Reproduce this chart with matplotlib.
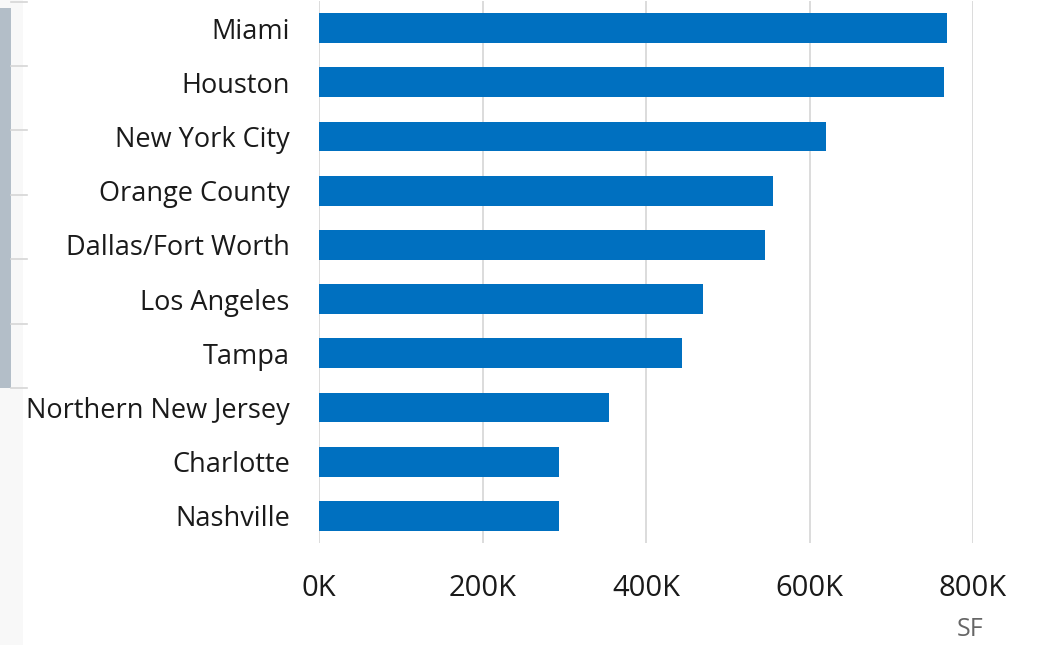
import numpy as np
import matplotlib.pyplot as plt
from matplotlib.patches import Rectangle
from matplotlib.lines import Line2D
from matplotlib.ticker import FuncFormatter

# markets and square footage
markets = ["Miami", "Houston", "New York City", "Orange County", "Dallas/Fort Worth",
           "Los Angeles", "Tampa", "Northern New Jersey", "Charlotte", "Nashville"]
sqft = [768000, 764000, 620000, 555000, 546000, 470000, 444000, 355000, 294000, 293000]
xticks = [0, 200000, 400000, 600000, 800000]

plt.rcParams['font.family'] = ['Open Sans', 'DejaVu Sans']

W, H = 1041, 645
fig = plt.figure(figsize=(W / 100, H / 100), dpi=100)

# strip of the neighbouring panel on the left edge
fig.patches.append(Rectangle((0, 0), 23 / W, 1, transform=fig.transFigure,
                             facecolor="#f8f8f8", edgecolor="none", zorder=0))
fig.patches.append(Rectangle((0, 1 - 388 / H), 11 / W, (388 - 8) / H,
                             transform=fig.transFigure, facecolor="#b3bec8",
                             edgecolor="none", zorder=1))
for yy in [2, 66, 130, 195, 259, 324, 388]:
    fig.lines.append(Line2D([11 / W, 27 / W], [1 - yy / H, 1 - yy / H],
                            transform=fig.transFigure, color="#d6d6d6", lw=1.2))

ax = fig.add_axes([319 / W, 1 - 543 / H, (973 - 319) / W, 542 / H])
y = np.arange(len(markets))
ax.barh(y, sqft, height=0.55, color="#0070c0", zorder=3)
ax.set_ylim(len(markets) - 0.5, -0.5)
ax.set_xlim(0, 800000)
ax.set_xticks(xticks)
ax.xaxis.set_major_formatter(FuncFormatter(lambda v, p: f"{int(v / 1000)}K"))
ax.set_yticks(y)
ax.set_yticklabels(markets)
ax.grid(axis="x", color="#d9d9d9", lw=1.3, zorder=0)
for s in ax.spines.values():
    s.set_visible(False)
ax.tick_params(axis="both", length=0, colors="#1a1a1a")
ax.tick_params(axis="x", pad=22, labelsize=21)
ax.tick_params(axis="y", pad=21, labelsize=19.5)

fig.text(970 / W, 1 - 629 / H, "SF", ha="center", va="center", fontsize=18, color="#666666")

fig.savefig("out.png", dpi=100)
